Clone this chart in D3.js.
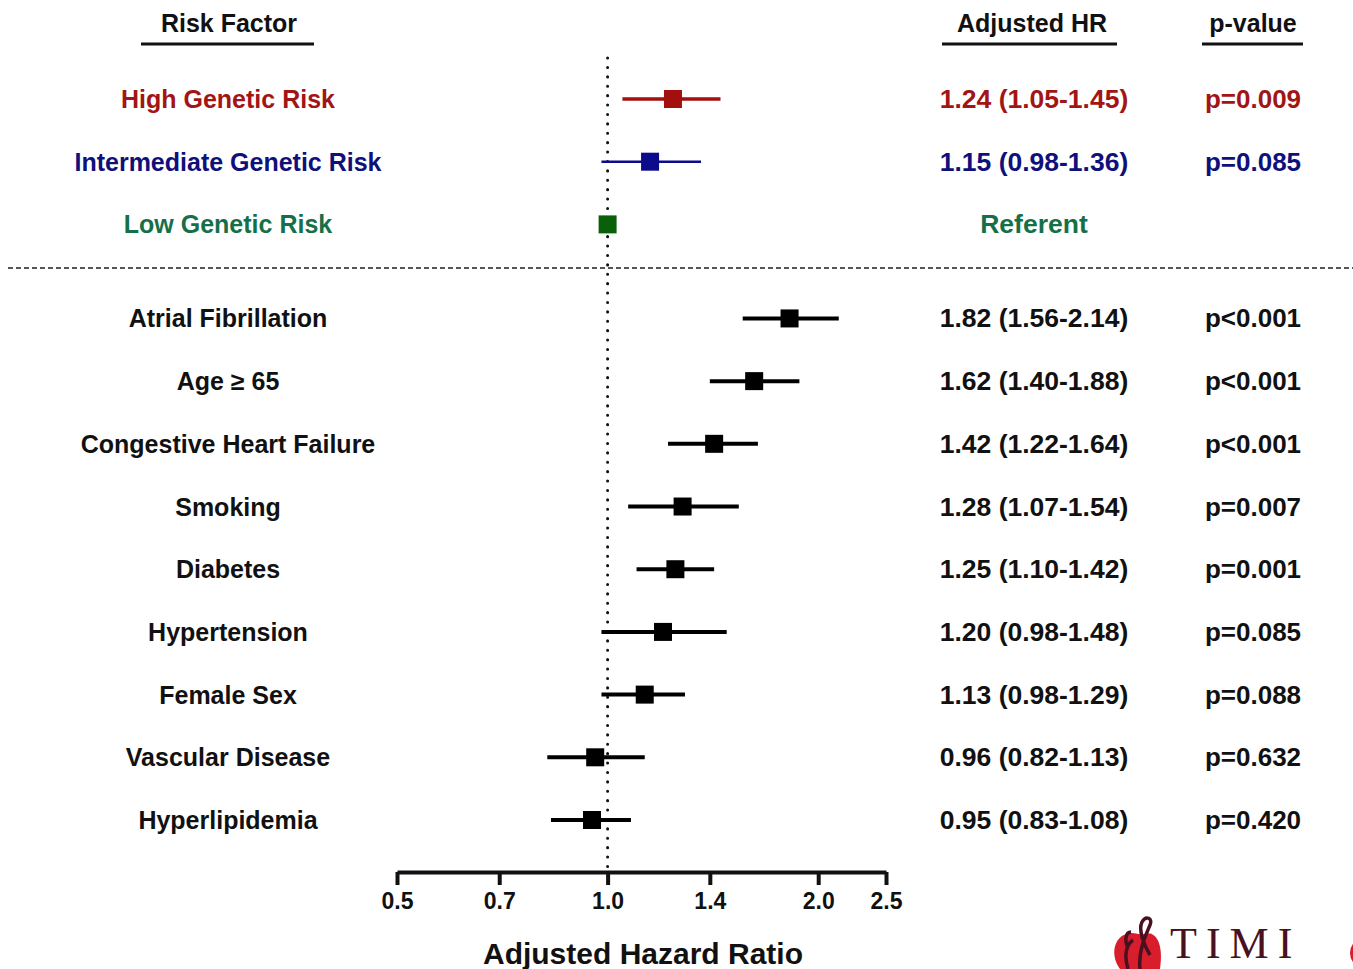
<!DOCTYPE html>
<html>
<head>
<meta charset="utf-8">
<script src="https://cdn.jsdelivr.net/npm/d3@7"></script>
<style>
  body { margin: 0; background: #fff; }
  text.sans { font-family: "Liberation Sans", Arial, sans-serif; font-weight: bold; }
</style>
</head>
<body>
<div id="forest"></div>
<script>
// data
const factors = ['High Genetic Risk', 'Intermediate Genetic Risk', 'Low Genetic Risk',
  'Atrial Fibrillation', 'Age \u2265 65', 'Congestive Heart Failure', 'Smoking', 'Diabetes',
  'Hypertension', 'Female Sex', 'Vascular Disease', 'Hyperlipidemia'];
const hr = [1.24, 1.15, 1.00, 1.82, 1.62, 1.42, 1.28, 1.25, 1.20, 1.13, 0.96, 0.95];
const ciLow = [1.05, 0.98, null, 1.56, 1.40, 1.22, 1.07, 1.10, 0.98, 0.98, 0.82, 0.83];
const ciHigh = [1.45, 1.36, null, 2.14, 1.88, 1.64, 1.54, 1.42, 1.48, 1.29, 1.13, 1.08];
const hrLabels = ['1.24 (1.05-1.45)', '1.15 (0.98-1.36)', 'Referent', '1.82 (1.56-2.14)',
  '1.62 (1.40-1.88)', '1.42 (1.22-1.64)', '1.28 (1.07-1.54)', '1.25 (1.10-1.42)',
  '1.20 (0.98-1.48)', '1.13 (0.98-1.29)', '0.96 (0.82-1.13)', '0.95 (0.83-1.08)'];
const pLabels = ['p=0.009', 'p=0.085', '', 'p<0.001', 'p<0.001', 'p<0.001', 'p=0.007',
  'p=0.001', 'p=0.085', 'p=0.088', 'p=0.632', 'p=0.420'];
const rowSlot = [0, 1, 2, 3.5, 4.5, 5.5, 6.5, 7.5, 8.5, 9.5, 10.5, 11.5];
const axisTicks = [0.5, 0.7, 1.0, 1.4, 2.0, 2.5];

// colours per row group
const textColor = ['#a31515', '#10107a', '#167047', '#111', '#111', '#111', '#111', '#111', '#111', '#111', '#111', '#111'];
const markColor = ['#a30e0e', '#0b0b8c', '#0a600a', '#000', '#000', '#000', '#000', '#000', '#000', '#000', '#000', '#000'];
const lineWidth = [3.5, 2.5, 3, 4, 4, 4, 4, 4, 4, 4, 4, 4];

const rows = factors.map((f, i) => ({
  name: f, hr: hr[i], lo: ciLow[i], hi: ciHigh[i], hrText: hrLabels[i], pText: pLabels[i],
  slot: rowSlot[i], tc: textColor[i], mc: markColor[i], lw: lineWidth[i]
}));

const width = 1353, height = 969;
const svg = d3.select('#forest').append('svg')
  .attr('width', width).attr('height', height)
  .attr('viewBox', `0 0 ${width} ${height}`);

const xScale = d3.scaleLog().domain([0.5, 2.5]).range([397, 886]);
const yScale = d3.scaleLinear().domain([0, 11.5]).range([99, 820]);

const labelX = 228, hrX = 1034, pX = 1253;

// headers
const headers = [
  {t: 'Risk Factor', x: 229, x0: 141, x1: 314},
  {t: 'Adjusted HR', x: 1032, x0: 942, x1: 1117},
  {t: 'p-value', x: 1253, x0: 1202, x1: 1303}
];
svg.selectAll('.hdr').data(headers).join('text')
  .attr('class', 'hdr sans')
  .attr('x', d => d.x).attr('y', 32)
  .attr('text-anchor', 'middle')
  .attr('font-size', '25px').attr('fill', '#111')
  .text(d => d.t);
svg.selectAll('.hdrline').data(headers).join('line')
  .attr('class', 'hdrline')
  .attr('x1', d => d.x0).attr('x2', d => d.x1)
  .attr('y1', 44).attr('y2', 44)
  .attr('stroke', '#111').attr('stroke-width', 3);

// separator between genetic and clinical factors
svg.append('line')
  .attr('x1', 8).attr('x2', width).attr('y1', 268).attr('y2', 268)
  .attr('stroke', '#555').attr('stroke-width', 2).attr('stroke-dasharray', '5,3');

// reference line at HR = 1
svg.append('line')
  .attr('x1', xScale(1)).attr('x2', xScale(1))
  .attr('y1', 58).attr('y2', 870)
  .attr('stroke', '#111').attr('stroke-width', 3)
  .attr('stroke-linecap', 'round').attr('stroke-dasharray', '0.1,9.3');

const g = svg.selectAll('.row').data(rows).join('g')
  .attr('class', 'row')
  .attr('transform', d => `translate(0, ${yScale(d.slot)})`);

g.filter(d => d.lo != null).append('line')
  .attr('x1', d => xScale(d.lo)).attr('x2', d => xScale(d.hi))
  .attr('y1', 0).attr('y2', 0)
  .attr('stroke', d => d.mc).attr('stroke-width', d => d.lw);

g.append('rect')
  .attr('x', d => xScale(d.hr) - 9).attr('y', -9)
  .attr('width', 18).attr('height', 18)
  .attr('fill', d => d.mc);

g.append('text')
  .attr('class', 'sans')
  .attr('x', labelX).attr('y', 9)
  .attr('text-anchor', 'middle').attr('font-size', '25px')
  .attr('fill', d => d.tc)
  .text(d => d.name);

g.append('text')
  .attr('class', 'sans')
  .attr('x', hrX).attr('y', 9)
  .attr('text-anchor', 'middle').attr('font-size', '26.5px')
  .attr('fill', d => d.tc)
  .text(d => d.hrText);

g.append('text')
  .attr('class', 'sans')
  .attr('x', pX).attr('y', 9)
  .attr('text-anchor', 'middle').attr('font-size', '26px')
  .attr('fill', d => d.tc)
  .text(d => d.pText);

// x axis
const xAxis = d3.axisBottom(xScale)
  .tickValues(axisTicks)
  .tickFormat(d3.format('.1f'))
  .tickSize(13).tickSizeOuter(0);
const ax = svg.append('g')
  .attr('transform', 'translate(0, 872)')
  .call(xAxis);
ax.select('.domain').attr('stroke', '#111').attr('stroke-width', 4);
ax.selectAll('.tick line').attr('stroke', '#111').attr('stroke-width', 4);
ax.selectAll('.tick text')
  .attr('class', 'sans')
  .attr('font-size', '23px').attr('fill', '#111').attr('dy', '0.9em');

svg.append('text')
  .attr('class', 'sans')
  .attr('x', 643).attr('y', 964)
  .attr('text-anchor', 'middle').attr('font-size', '30px').attr('fill', '#111')
  .text('Adjusted Hazard Ratio');

// TIMI logo (cropped at the bottom edge)
const logo = svg.append('g');
logo.append('path')
  .attr('d', 'M1120,969 C1110,955 1114,938 1126,934 C1134,931 1140,936 1144,934 C1156,930 1164,944 1160,969 Z')
  .attr('fill', '#d81e2c');
logo.append('path')
  .attr('d', 'M1128,969 C1124,955 1126,945 1133,940 M1140,969 C1138,950 1146,935 1150,925 C1153,918 1146,915 1142,922 C1138,930 1144,945 1150,955 M1128,948 C1124,940 1126,932 1131,932')
  .attr('fill', 'none').attr('stroke', '#4a1020').attr('stroke-width', 3.5);
logo.append('text')
  .attr('x', 1170).attr('y', 958)
  .style('font-family', '"Liberation Serif", "DejaVu Serif", serif')
  .style('font-weight', 'normal').style('font-size', '44px')
  .attr('letter-spacing', '9px')
  .attr('fill', '#4a1020')
  .text('TIMI');
logo.append('ellipse')
  .attr('cx', 1362).attr('cy', 953).attr('rx', 12).attr('ry', 14)
  .attr('fill', '#d81e2c');
</script>
</body>
</html>
